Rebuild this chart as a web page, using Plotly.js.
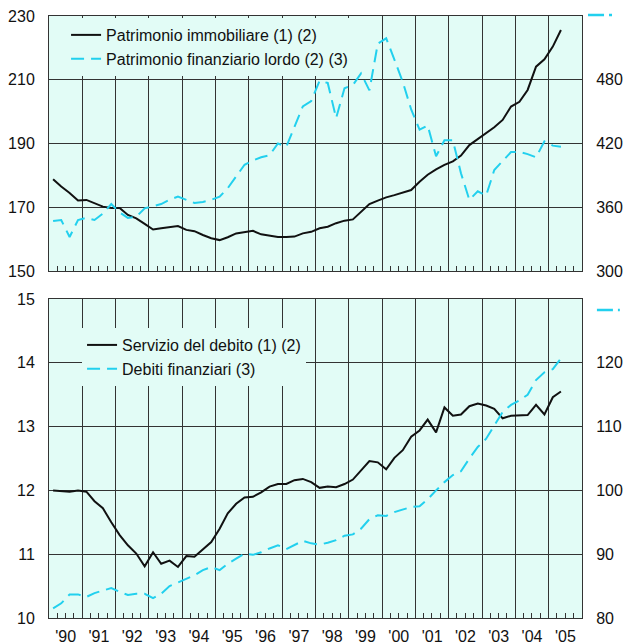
<!DOCTYPE html>
<html>
<head>
<meta charset="utf-8">
<script src="https://cdn.plot.ly/plotly-3.0.1.min.js"></script>
<style>html,body{margin:0;padding:0;background:#fff;}#chart{width:623px;height:644px;}</style>
</head>
<body>
<div id="chart"></div>
<script>
// Quarterly observations, 1990 Q1 - 2005 Q2
const years = [1990,1991,1992,1993,1994,1995,1996,1997,1998,1999,2000,2001,2002,2003,2004,2005];
const quarterMid = ["02-15","05-15","08-15","11-15"];
const nObs = 62;

// Top panel
const patrimonioImmobiliare = [
  178.8,176.5,174.5,172.1,
  172.3,171.2,170.2,169.8,
  169.8,167.6,166.5,164.8,
  163.0,163.4,163.8,164.1,
  162.9,162.5,161.3,160.3,
  159.7,160.6,161.8,162.2,
  162.6,161.5,161.0,160.7,
  160.7,160.8,161.8,162.3,
  163.4,163.9,165.0,165.8,
  166.2,168.6,171.0,172.1,
  173.1,173.8,174.6,175.4,
  178.0,180.2,181.9,183.3,
  184.4,186.2,189.5,191.3,
  193.2,195.1,197.4,201.6,
  203.1,206.8,214.1,216.4,
  220.4,225.6];
const patrimonioFinanziario = [
  347,348,332,348,
  350,348,354,363,
  355,350,351,359,
  361,363,367,370,
  367,364,365,367,
  370,378,389,400,
  404,407,409,420,
  417,435,455,460,
  479,477,444,472,
  475,486,470,514,
  519,499,478,452,
  433,437,408,423,
  423,392,367,375,
  371,395,404,412,
  412,410,407,422,
  418,417];

// Bottom panel
const servizioDebito = [
  12.00,11.99,11.98,12.00,
  11.98,11.83,11.72,11.50,
  11.30,11.14,11.01,10.81,
  11.03,10.85,10.90,10.80,
  10.97,10.96,11.08,11.19,
  11.40,11.64,11.79,11.89,
  11.90,11.97,12.06,12.10,
  12.10,12.16,12.18,12.13,
  12.04,12.06,12.05,12.10,
  12.17,12.31,12.46,12.44,
  12.33,12.51,12.63,12.84,
  12.94,13.11,12.91,13.30,
  13.17,13.19,13.32,13.36,
  13.33,13.28,13.13,13.17,
  13.18,13.18,13.34,13.19,
  13.46,13.55];
const debitiFinanziari = [
  81.5,82.3,83.7,83.7,
  83.3,83.9,84.3,84.7,
  84.1,83.6,83.8,83.8,
  83.1,83.8,85.0,85.6,
  86.2,86.7,87.5,88.0,
  87.5,88.5,89.3,90.1,
  89.9,90.3,90.9,91.4,
  90.8,91.4,92.1,91.7,
  91.5,91.8,92.2,92.9,
  93.1,94.0,95.5,96.1,
  96.0,96.6,97.0,97.4,
  97.5,98.6,100.0,101.3,
  102.4,103.0,105.0,106.8,
  108.1,110.2,112.3,113.4,
  114.1,115.0,117.3,118.5,
  119.0,120.7];

const names = {
  immob: "Patrimonio immobiliare (1) (2)",
  fin: "Patrimonio finanziario lordo (2) (3)",
  serv: "Servizio del debito (1) (2)",
  deb: "Debiti finanziari (3)"
};

const dates = [];
years.forEach(y => quarterMid.forEach(q => dates.push(y + "-" + q)));
const x = dates.slice(0, nObs);

const BLACK = "#111111";
const CYAN = "#22d0ee";
const BG = "#e2fcf6";
const GRID = "#333333";
const FONT = "Liberation Sans, Arial, sans-serif";

const traces = [
  {x: x, y: patrimonioImmobiliare, name: names.immob, type: "scatter", mode: "lines",
   line: {color: BLACK, width: 2}, xaxis: "x", yaxis: "y", legend: "legend"},
  {x: x, y: patrimonioFinanziario, name: names.fin, type: "scatter", mode: "lines",
   line: {color: CYAN, width: 2, dash: "13px,7px"}, xaxis: "x", yaxis: "y2", legend: "legend"},
  {x: x, y: servizioDebito, name: names.serv, type: "scatter", mode: "lines",
   line: {color: BLACK, width: 2}, xaxis: "x2", yaxis: "y3", legend: "legend2"},
  {x: x, y: debitiFinanziari, name: names.deb, type: "scatter", mode: "lines",
   line: {color: CYAN, width: 2, dash: "13px,7px"}, xaxis: "x2", yaxis: "y4", legend: "legend2"}
];

const xBase = {
  type: "date", range: ["1990-01-01", "2006-01-01"],
  dtick: "M12", tick0: "1990-01-01", tickformat: "'%y", ticklabelmode: "period",
  showgrid: true, gridcolor: GRID, gridwidth: 1,
  ticks: "", showline: true, linecolor: GRID, linewidth: 1, mirror: true,
  minor: {dtick: "M3", tick0: "1990-01-01", ticks: "inside", ticklen: 5, tickcolor: GRID, tickwidth: 1, showgrid: false},
  tickfont: {family: FONT, size: 16, color: "#111"},
  zeroline: false, fixedrange: true
};

const topDomain = [0.5764, 1];
const botDomain = [0, 0.5299];

const layout = {
  width: 623, height: 644,
  margin: {l: 49, r: 41, t: 16, b: 26},
  paper_bgcolor: "#ffffff",
  plot_bgcolor: BG,
  font: {family: FONT, size: 16, color: "#111"},
  showlegend: true,
  xaxis: Object.assign({}, xBase, {domain: [0, 1], anchor: "y", showticklabels: false}),
  xaxis2: Object.assign({}, xBase, {domain: [0, 1], anchor: "y3", showticklabels: true, ticklabelstandoff: 4}),
  yaxis: {domain: topDomain, anchor: "x", range: [150, 230], dtick: 20, tick0: 150,
    showgrid: true, gridcolor: GRID, gridwidth: 1, zeroline: false,
    showline: true, linecolor: GRID, linewidth: 1, ticks: "", ticklabelstandoff: 10,
    tickfont: {family: FONT, size: 16, color: "#111"}},
  yaxis2: {domain: topDomain, anchor: "x", overlaying: "y", side: "right", range: [300, 540],
    tickvals: [300, 360, 420, 480], showgrid: false, zeroline: false,
    showline: true, linecolor: GRID, linewidth: 1, ticks: "", ticklabelstandoff: 10,
    tickfont: {family: FONT, size: 16, color: "#111"}},
  yaxis3: {domain: botDomain, anchor: "x2", range: [10, 15], dtick: 1, tick0: 10,
    showgrid: true, gridcolor: GRID, gridwidth: 1, zeroline: false,
    showline: true, linecolor: GRID, linewidth: 1, ticks: "", ticklabelstandoff: 10,
    tickfont: {family: FONT, size: 16, color: "#111"}},
  yaxis4: {domain: botDomain, anchor: "x2", overlaying: "y3", side: "right", range: [80, 130],
    tickvals: [80, 90, 100, 110, 120], showgrid: false, zeroline: false,
    showline: true, linecolor: GRID, linewidth: 1, ticks: "", ticklabelstandoff: 10,
    tickfont: {family: FONT, size: 16, color: "#111"}},
  legend: {x: 0.032, y: 0.9967, xanchor: "left", yanchor: "top", bgcolor: BG, borderwidth: 0,
    font: {family: FONT, size: 16, color: "#111"}, traceorder: "normal", itemwidth: 30},
  legend2: {x: 0.062, y: 0.4817, xanchor: "left", yanchor: "top", bgcolor: BG, borderwidth: 0,
    font: {family: FONT, size: 16, color: "#111"}, traceorder: "normal", itemwidth: 30},
  shapes: [
    {type: "line", xref: "paper", yref: "paper", x0: 1.0113, x1: 1.0563, y0: 1.0017, y1: 1.0017,
     line: {color: CYAN, width: 2.5, dash: "16px,5px"}},
    {type: "line", xref: "paper", yref: "paper", x0: 1.028, x1: 1.071, y0: 0.5116, y1: 0.5116,
     line: {color: CYAN, width: 2.5, dash: "16px,5px"}}
  ]
};

Plotly.newPlot("chart", traces, layout, {displayModeBar: false, staticPlot: true});
</script>
</body>
</html>
